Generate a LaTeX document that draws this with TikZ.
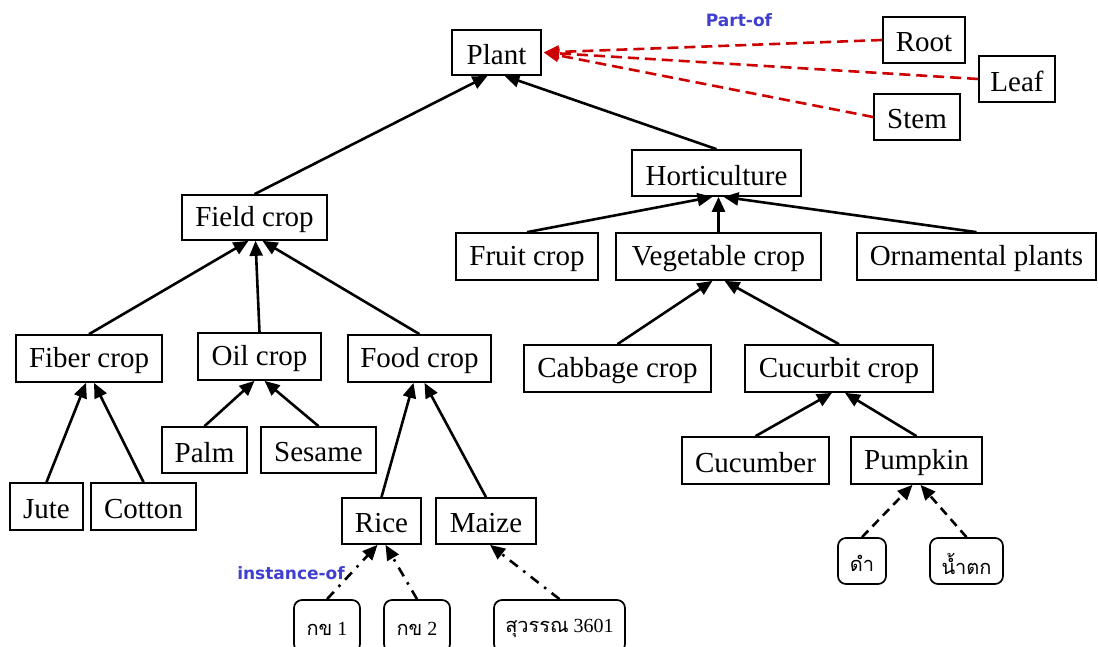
\documentclass[tikz,border=0pt]{standalone}
\usepackage{fontspec}
\setmainfont{Liberation Serif}
\newfontfamily\thaifont[Script=Thai]{Loma}
\newfontfamily\lblfont{DejaVu Sans}
\usetikzlibrary{arrows.meta,calc}
\definecolor{pored}{RGB}{204,0,0}
\definecolor{lblblue}{RGB}{64,64,208}
\newcommand\dn[1]{\raisebox{-2.5pt}[\height][\depth]{#1}}
\tikzset{
 box/.style={draw, line width=1.7pt, inner sep=0pt, font=\fontsize{29}{30}\selectfont},
 inst/.style={box, rounded corners=8pt, font=\fontsize{20}{22}\selectfont},
 tip/.style={-{Triangle[length=15pt,width=13pt]}},
 isa/.style={line width=2.6pt, tip},
 partof/.style={pored, line width=2.6pt, dash pattern=on 11pt off 6pt, tip},
 instof/.style={line width=2.6pt, dash pattern=on 10pt off 7pt on 2.5pt off 7pt, tip},
 dashedarr/.style={line width=2.6pt, dash pattern=on 9pt off 6pt, tip},
 lbl/.style={text=lblblue, font=\lblfont\bfseries\fontsize{17}{19}\selectfont}
}
\begin{document}
\begin{tikzpicture}[x=1pt,y=1pt]
\clip (0,0) rectangle (1098,-646);
% nodes
\node[box, minimum width=89pt, minimum height=45pt] (plant) at (496.5,-52.5) {\dn{Plant}};
\node[box, minimum width=82pt, minimum height=46pt] (root) at (924,-40) {\dn{Root}};
\node[box, minimum width=76pt, minimum height=46pt] (leaf) at (1017,-79) {\dn{Leaf}};
\node[box, minimum width=86pt, minimum height=46pt] (stem) at (917,-117) {\dn{Stem}};
\node[box, minimum width=169pt, minimum height=46pt] (horti) at (716.5,-173) {\dn{Horticulture}};
\node[box, minimum width=145pt, minimum height=45pt] (field) at (254.5,-217.5) {\dn{Field crop}};
\node[box, minimum width=142pt, minimum height=47pt] (fruit) at (527,-256.5) {\dn{Fruit crop}};
\node[box, minimum width=205pt, minimum height=47pt] (veg) at (718.5,-256.5) {\dn{Vegetable crop}};
\node[box, minimum width=239pt, minimum height=47pt] (orn) at (976.5,-256.5) {\dn{Ornamental plants}};
\node[box, minimum width=146pt, minimum height=47pt] (fiber) at (89,-358.5) {\dn{Fiber crop}};
\node[box, minimum width=123pt, minimum height=47pt] (oil) at (259.5,-356.5) {\dn{Oil crop}};
\node[box, minimum width=143pt, minimum height=47pt] (food) at (419.5,-358.5) {\dn{Food crop}};
\node[box, minimum width=187pt, minimum height=47pt] (cabbage) at (617.5,-368.5) {\dn{Cabbage crop}};
\node[box, minimum width=188pt, minimum height=47pt] (cucurbit) at (839,-368.5) {\dn{Cucurbit crop}};
\node[box, minimum width=85pt, minimum height=46pt] (palm) at (204.5,-450) {\dn{Palm}};
\node[box, minimum width=115pt, minimum height=46pt] (sesame) at (318.5,-450) {\dn{Sesame}};
\node[box, minimum width=73pt, minimum height=47pt] (jute) at (46.5,-506.5) {\dn{Jute}};
\node[box, minimum width=105pt, minimum height=47pt] (cotton) at (143.5,-506.5) {\dn{Cotton}};
\node[box, minimum width=79pt, minimum height=46pt] (rice) at (381.5,-521) {\dn{Rice}};
\node[box, minimum width=100pt, minimum height=46pt] (maize) at (486,-521) {\dn{Maize}};
\node[box, minimum width=147pt, minimum height=47pt] (cucumber) at (755.5,-460.5) {\dn{Cucumber}};
\node[box, minimum width=131pt, minimum height=47pt] (pumpkin) at (916.5,-460.5) {\dn{Pumpkin}};
\node[inst, minimum width=66pt, minimum height=52pt] (k1) at (327,-626) {\dn{{\thaifont กข} 1}};
\node[inst, minimum width=66pt, minimum height=52pt] (k2) at (417,-626) {\dn{{\thaifont กข} 2}};
\node[inst, minimum width=131pt, minimum height=52pt] (suwan) at (559.5,-626) {\dn{{\thaifont สุวรรณ} 3601}};
\node[inst, minimum width=48pt, minimum height=46pt] (dam) at (862,-561) {\dn{\thaifont ดำ}};
\node[inst, minimum width=73pt, minimum height=46pt] (namtok) at (966.5,-561) {\dn{\thaifont น้ำตก}};
% labels
\node[lbl] (lpart) at (739,-20) {Part-of};
\node[lbl] (linst) at (291,-573) {instance-of};
% is-a connectors
\draw[isa] (field.north) -- ($(plant.south)+(-9,0)$);
\draw[isa] (horti.north) -- ($(plant.south)+(8,0)$);
\draw[isa] (fiber.north) -- ($(field.south)+(-6,0)$);
\draw[isa] (oil.north) -- ($(field.south)+(1,0)$);
\draw[isa] (food.north) -- ($(field.south)+(8,0)$);
\draw[isa] (fruit.north) -- ($(horti.south)+(-4,0)$);
\draw[isa] (veg.north) -- ($(horti.south)+(2,0)$);
\draw[isa] (orn.north) -- ($(horti.south)+(7,0)$);
\draw[isa] (cabbage.north) -- ($(veg.south)+(-6,0)$);
\draw[isa] (cucurbit.north) -- ($(veg.south)+(6,0)$);
\draw[isa] (jute.north) -- ($(fiber.south)+(-3,0)$);
\draw[isa] (cotton.north) -- ($(fiber.south)+(5,0)$);
\draw[isa] (palm.north) -- ($(oil.south)+(-5,0)$);
\draw[isa] (sesame.north) -- ($(oil.south)+(5,0)$);
\draw[isa] (rice.north) -- ($(food.south)+(-6,0)$);
\draw[isa] (maize.north) -- ($(food.south)+(5,0)$);
\draw[isa] (cucumber.north) -- ($(cucurbit.south)+(-7,0)$);
\draw[isa] (pumpkin.north) -- ($(cucurbit.south)+(6,0)$);
% instance-of
\draw[instof] (k1.north) -- ($(rice.south)+(-4,0)$);
\draw[instof] (k2.north) -- ($(rice.south)+(4,0)$);
\draw[instof] (suwan.north) -- ($(maize.south)+(4,0)$);
\draw[dashedarr] (dam.north) -- ($(pumpkin.south)+(-4,0)$);
\draw[dashedarr] (namtok.north) -- ($(pumpkin.south)+(4,0)$);
% part-of
\draw[partof] (root.west) -- ($(plant.east)+(2,0)$);
\draw[partof] (leaf.west) -- ($(plant.east)+(2,0)$);
\draw[partof] (stem.west) -- ($(plant.east)+(2,0)$);
\end{tikzpicture}
\end{document}
